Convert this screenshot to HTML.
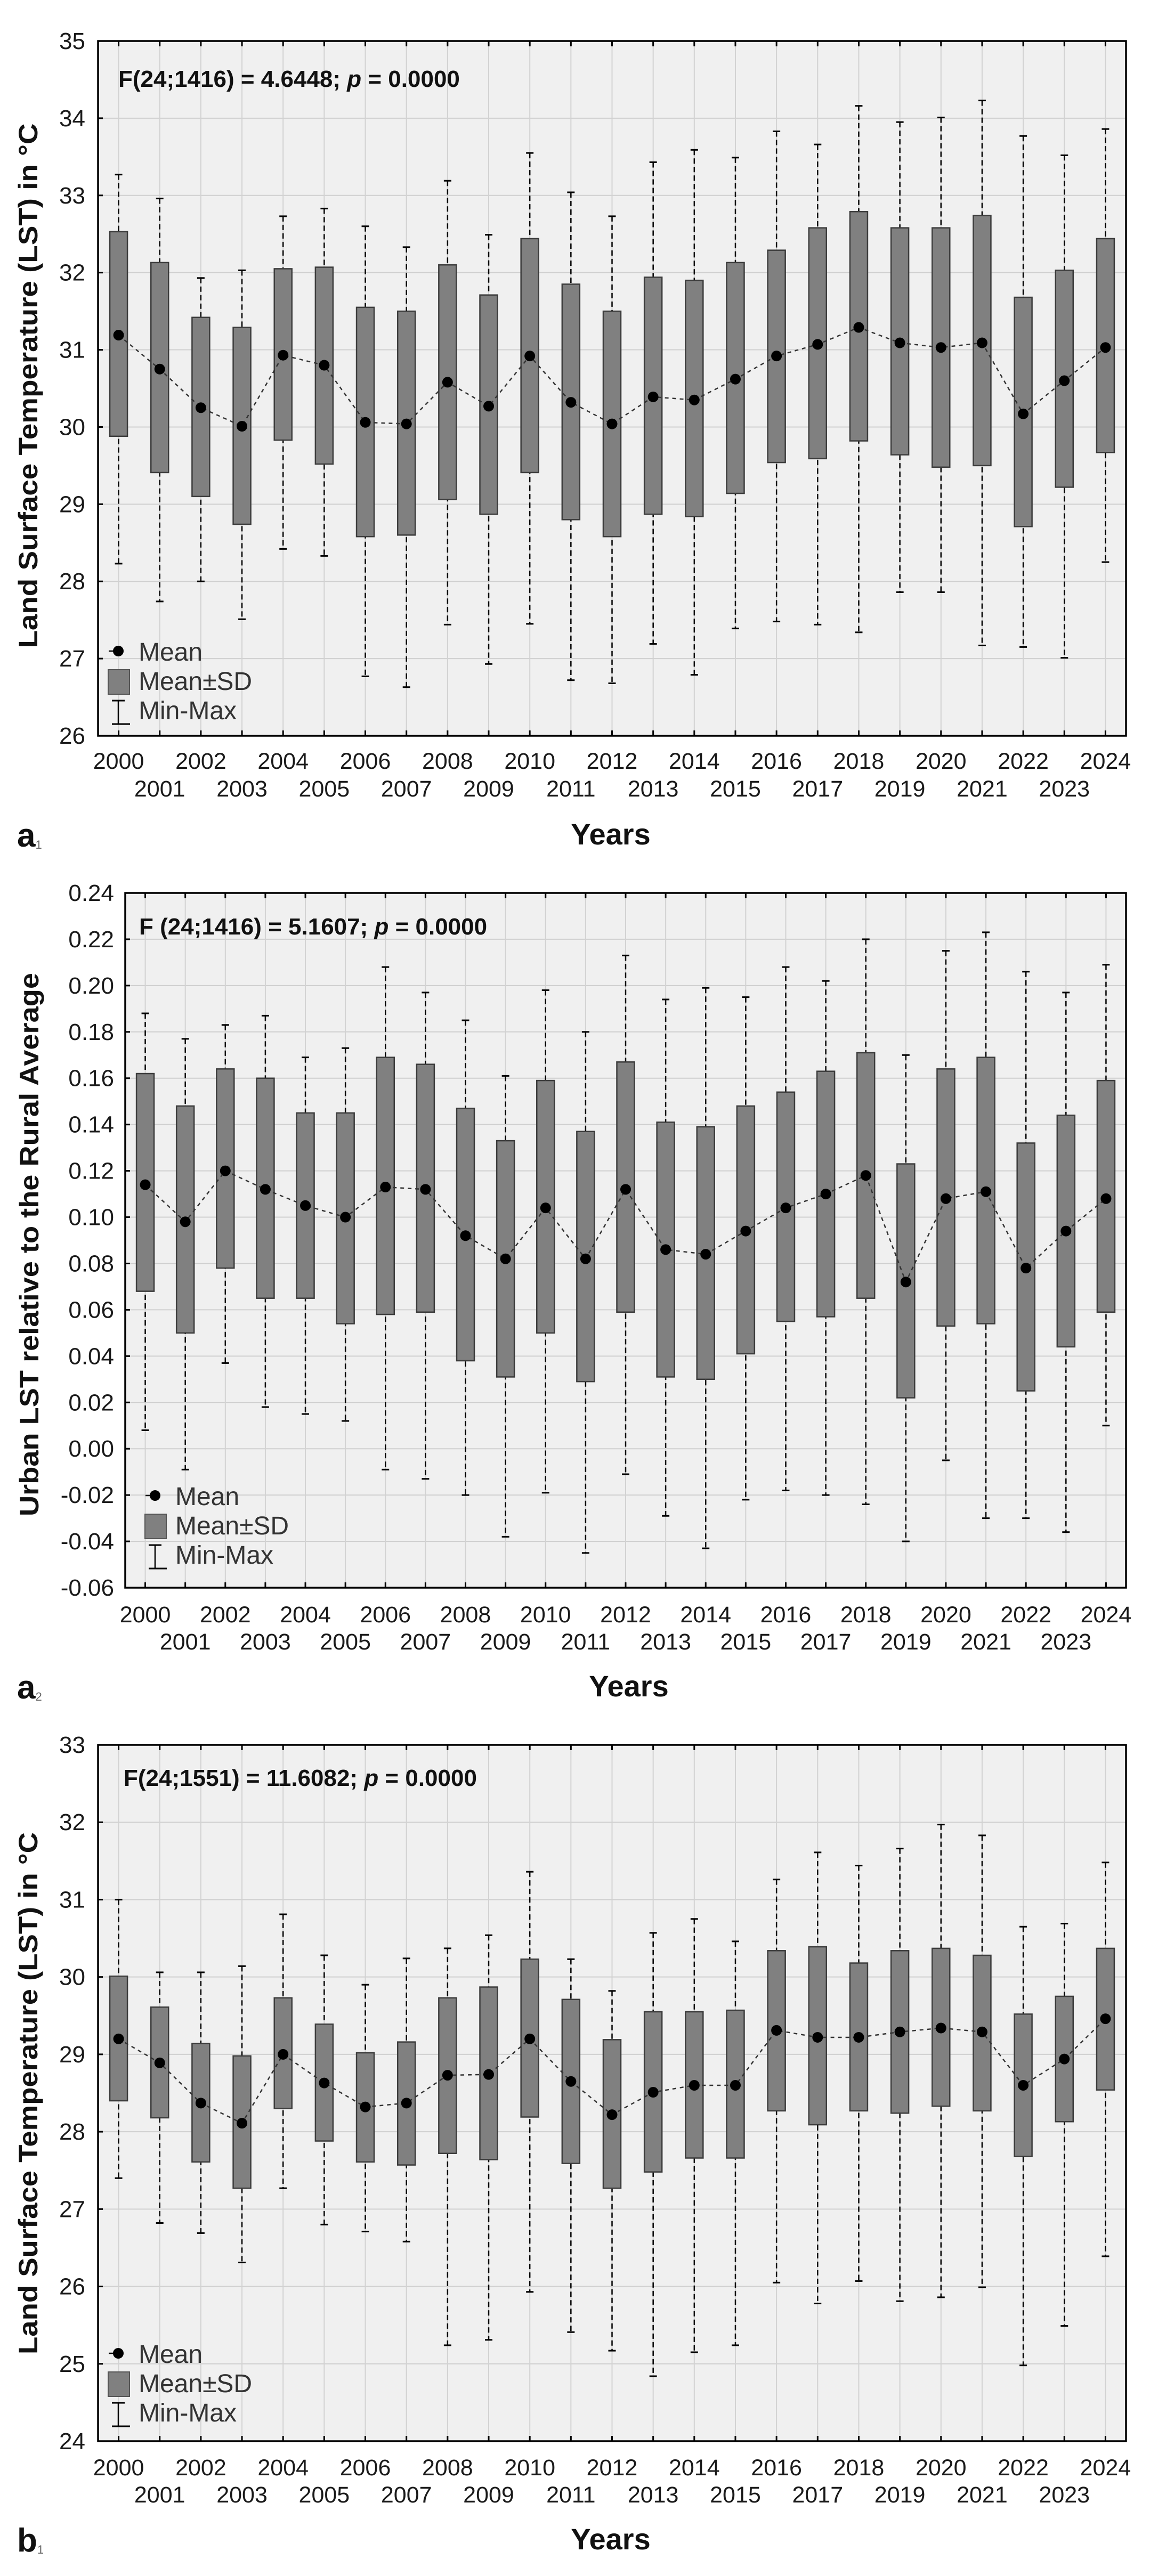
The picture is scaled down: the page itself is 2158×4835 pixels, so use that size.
<!DOCTYPE html>
<html><head><meta charset="utf-8"><title>LST charts</title>
<style>
html,body{margin:0;padding:0;background:#fff;}
svg{display:block;}
text{font-family:"Liberation Sans",Arial,sans-serif;}
</style></head>
<body>
<svg id="fig" width="2158" height="4835" viewBox="0 0 2158 4835" xmlns="http://www.w3.org/2000/svg"></svg>
<script>
const years = ["2000","2001","2002","2003","2004","2005","2006","2007","2008","2009","2010","2011","2012","2013","2014","2015","2016","2017","2018","2019","2020","2021","2022","2023","2024"];

// Chart a1
const a1Max  = [33.27,32.96,31.93,32.03,32.73,32.83,32.60,32.33,33.19,32.49,33.55,33.04,32.73,33.43,33.59,33.49,33.83,33.66,34.16,33.95,34.01,34.23,33.77,33.52,33.86];
const a1Top  = [32.53,32.13,31.42,31.29,32.05,32.07,31.55,31.50,32.10,31.71,32.44,31.85,31.50,31.94,31.90,32.13,32.29,32.58,32.79,32.58,32.58,32.74,31.68,32.03,32.44];
const a1Mean = [31.19,30.75,30.25,30.01,30.93,30.80,30.06,30.04,30.58,30.27,30.92,30.32,30.04,30.39,30.35,30.62,30.92,31.07,31.29,31.09,31.03,31.09,30.17,30.60,31.03];
const a1Bot  = [29.88,29.41,29.10,28.74,29.83,29.52,28.58,28.60,29.06,28.87,29.41,28.80,28.58,28.87,28.84,29.14,29.54,29.59,29.82,29.64,29.48,29.50,28.71,29.22,29.67];
const a1Min  = [28.23,27.74,28.00,27.51,28.42,28.33,26.77,26.63,27.44,26.93,27.45,26.72,26.68,27.19,26.79,27.39,27.48,27.44,27.34,27.86,27.86,27.17,27.15,27.01,28.25];
const a1Ticks = ["26","27","28","29","30","31","32","33","34","35"];

// Chart a2
const a2Max  = [0.188,0.177,0.183,0.187,0.169,0.173,0.208,0.197,0.185,0.161,0.198,0.180,0.213,0.194,0.199,0.195,0.208,0.202,0.220,0.170,0.215,0.223,0.206,0.197,0.209];
const a2Top  = [0.162,0.148,0.164,0.160,0.145,0.145,0.169,0.166,0.147,0.133,0.159,0.137,0.167,0.141,0.139,0.148,0.154,0.163,0.171,0.123,0.164,0.169,0.132,0.144,0.159];
const a2Mean = [0.114,0.098,0.120,0.112,0.105,0.100,0.113,0.112,0.092,0.082,0.104,0.082,0.112,0.086,0.084,0.094,0.104,0.110,0.118,0.072,0.108,0.111,0.078,0.094,0.108];
const a2Bot  = [0.068,0.050,0.078,0.065,0.065,0.054,0.058,0.059,0.038,0.031,0.050,0.029,0.059,0.031,0.030,0.041,0.055,0.057,0.065,0.022,0.053,0.054,0.025,0.044,0.059];
const a2Min  = [0.008,-0.009,0.037,0.018,0.015,0.012,-0.009,-0.013,-0.020,-0.038,-0.019,-0.045,-0.011,-0.029,-0.043,-0.022,-0.018,-0.020,-0.024,-0.040,-0.005,-0.030,-0.030,-0.036,0.010];
const a2Ticks = ["-0.06","-0.04","-0.02","0.00","0.02","0.04","0.06","0.08","0.10","0.12","0.14","0.16","0.18","0.20","0.22","0.24"];

// Chart b1
const b1Max  = [31.00,30.06,30.06,30.14,30.81,30.28,29.90,30.24,30.37,30.54,31.36,30.23,29.82,30.57,30.75,30.46,31.26,31.61,31.44,31.66,31.97,31.83,30.65,30.69,31.48];
const b1Top  = [30.01,29.61,29.14,28.98,29.73,29.39,29.02,29.16,29.73,29.87,30.23,29.71,29.19,29.55,29.55,29.57,30.34,30.39,30.18,30.34,30.37,30.28,29.52,29.75,30.37];
const b1Mean = [29.20,28.89,28.37,28.11,29.00,28.63,28.32,28.37,28.73,28.74,29.20,28.65,28.22,28.51,28.60,28.60,29.31,29.22,29.22,29.29,29.34,29.29,28.60,28.94,29.46];
const b1Bot  = [28.40,28.18,27.61,27.27,28.30,27.88,27.61,27.57,27.72,27.64,28.19,27.59,27.27,27.48,27.66,27.66,28.27,28.09,28.27,28.24,28.33,28.27,27.68,28.13,28.54];
const b1Min  = [27.40,26.82,26.69,26.31,27.27,26.80,26.71,26.58,25.24,25.31,25.93,25.41,25.17,24.84,25.15,25.24,26.05,25.78,26.07,25.81,25.86,25.99,24.98,25.49,26.39];
const b1Ticks = ["24","25","26","27","28","29","30","31","32","33"];

const NS = "http://www.w3.org/2000/svg";
const svg = document.getElementById("fig");
function mk(tag, attrs, parent, txt){
  const e = document.createElementNS(NS, tag);
  for (const k in attrs) e.setAttribute(k, attrs[k]);
  if (txt !== undefined) e.textContent = txt;
  (parent || svg).appendChild(e);
  return e;
}

function drawChart(c){
  const g = mk("g", {});
  
  
  const L=c.left, R=c.right, T=c.top, B=c.bottom;
  const lo = parseFloat(c.ticks[0]), hi = parseFloat(c.ticks[c.ticks.length-1]);
  const yS = v => B - (v - lo) / (hi - lo) * (B - T);
  const step = (R - L) / years.length;
  const xS = i => L + (i + 0.5) * step;

  const bg = mk("rect", {x:L, y:T, width:R-L, height:B-T, fill:"#f0f0f0"}, g);
  
  
  // grid
  c.ticks.forEach(t => {
    const y = yS(parseFloat(t));
    const gl = mk("line", {x1:L, x2:R, y1:y, y2:y, stroke:"#cfcfcf", "stroke-width":2}, g);
    
    
    const tl = mk("line", {x1:L, x2:L+9, y1:y, y2:y, stroke:"#000", "stroke-width":3}, g);
    
    
    const lab = mk("text", {x:c.tickX, y:y+15, "text-anchor":"end", "font-size":44, fill:"#1a1a1a"}, g, t);
    
    
  });
  years.forEach((yr, i) => {
    const x = xS(i);
    const gl = mk("line", {x1:x, x2:x, y1:T, y2:B, stroke:"#d2d2d2", "stroke-width":2}, g);
    
    
    const t1 = mk("line", {x1:x, x2:x, y1:T, y2:T+10, stroke:"#000", "stroke-width":3}, g);
    
    
    const t2 = mk("line", {x1:x, x2:x, y1:B-10, y2:B, stroke:"#000", "stroke-width":3}, g);
    
    
    const ly = (i % 2 === 0) ? c.xLab1 : c.xLab2;
    const lab = mk("text", {x:x, y:ly, "text-anchor":"middle", "font-size":43, fill:"#1a1a1a"}, g, yr);
    
    
  });
  // whiskers + boxes
  years.forEach((yr, i) => {
    const x = xS(i);
    const w = mk("line", {x1:x, x2:x, y1:yS(c.max[i]), y2:yS(c.min[i]), stroke:"#000", "stroke-width":2.5, "stroke-dasharray":"10,6"}, g);
    
    
    [c.max[i], c.min[i]].forEach(v => {
      const cap = mk("line", {x1:x-7, x2:x+7, y1:yS(v), y2:yS(v), stroke:"#000", "stroke-width":3}, g);
      
      
    });
    const yt = yS(c.top_[i]), yb = yS(c.bot[i]);
    const box = mk("rect", {x:x-16.5, y:yt, width:33, height:yb-yt, fill:"#808080", stroke:"#3c3c3c", "stroke-width":2.5}, g);
    
    
  });
  const pts = c.mean.map((v, i) => xS(i) + "," + yS(v)).join(" ");
  const ml = mk("polyline", {points:pts, fill:"none", stroke:"#333", "stroke-width":2.5, "stroke-dasharray":"7,7"}, g);
  
  
  c.mean.forEach((v, i) => {
    const d = mk("circle", {cx:xS(i), cy:yS(v), r:10, fill:"#000"}, g);
    
    
  });
  // frame
  const fr = mk("rect", {x:L, y:T, width:R-L, height:B-T, fill:"none", stroke:"#000", "stroke-width":3.5}, g);
  
  
  // F stat
  const ft = mk("text", {x:c.fX, y:c.fY, "font-size":44, "font-weight":"bold", fill:"#111"}, g);
  
  
  mk("tspan", {}, ft, c.fText + " ");
  mk("tspan", {"font-style":"italic"}, ft, "p");
  mk("tspan", {}, ft, " = 0.0000");
  // legend
  const lg = mk("g", {}, g);
  
  
  const lx = c.legX, ly0 = c.legY;
  mk("circle", {cx:lx, cy:ly0, r:10, fill:"#000"}, lg);
  mk("line", {x1:lx-18, x2:lx, y1:ly0, y2:ly0, stroke:"#000", "stroke-width":2.5}, lg);
  const t1 = mk("text", {x:lx+38, y:ly0+18, "font-size":48, fill:"#333"}, lg, "Mean");
  
  
  mk("rect", {x:lx-19, y:ly0+35, width:40, height:46, fill:"#808080", stroke:"#555", "stroke-width":2}, lg);
  const t2 = mk("text", {x:lx+38, y:ly0+73, "font-size":48, fill:"#333"}, lg, "Mean±SD");
  
  
  mk("line", {x1:lx, x2:lx, y1:ly0+93, y2:ly0+137, stroke:"#000", "stroke-width":2.5}, lg);
  mk("line", {x1:lx-12, x2:lx+12, y1:ly0+93, y2:ly0+93, stroke:"#000", "stroke-width":3}, lg);
  mk("line", {x1:lx-12, x2:lx+22, y1:ly0+137, y2:ly0+137, stroke:"#000", "stroke-width":3}, lg);
  const t3 = mk("text", {x:lx+38, y:ly0+128, "font-size":48, fill:"#333"}, lg, "Min-Max");
  
  
  // axis titles
  const yt = mk("text", {x:0, y:0, "font-size":50, "font-weight":"bold", "text-anchor":"middle", fill:"#111",
    transform:"translate(" + c.yTitleX + "," + c.yTitleY + ") rotate(-90)", textLength:c.yTitleLen, lengthAdjust:"spacingAndGlyphs"}, g, c.yTitle);
  
  
  const xt = mk("text", {x:c.xTitleX, y:c.xTitleY, "font-size":56, "font-weight":"bold", "text-anchor":"middle", fill:"#111"}, g, "Years");
  
  
  const pl = mk("text", {x:32, y:c.xTitleY+4, "font-size":62, "font-weight":"bold", fill:"#111"}, g);
  
  
  mk("tspan", {}, pl, c.panel[0]);
  mk("tspan", {"font-size":22, "font-weight":"normal", dy:4, fill:"#666"}, pl, c.panel[1]);
}

drawChart({name:"chart-a1", left:184, right:2113, top:77, bottom:1381, ticks:a1Ticks,
  max:a1Max, top_:a1Top, mean:a1Mean, bot:a1Bot, min:a1Min, tickX:160, xLab1:1443, xLab2:1495,
  fX:222, fY:163, fText:"F(24;1416) = 4.6448;", legX:222, legY:1222,
  yTitle:"Land Surface Temperature (LST) in °C", yTitleX:70, yTitleY:724, yTitleLen:985,
  xTitleX:1146, xTitleY:1585, panel:["a","1"]});
drawChart({name:"chart-a2", left:235, right:2113, top:1676, bottom:2980, ticks:a2Ticks,
  max:a2Max, top_:a2Top, mean:a2Mean, bot:a2Bot, min:a2Min, tickX:214, xLab1:3045, xLab2:3096,
  fX:261, fY:1754, fText:"F (24;1416) = 5.1607;", legX:291, legY:2807,
  yTitle:"Urban LST relative to the Rural Average", yTitleX:72, yTitleY:2336, yTitleLen:1020,
  xTitleX:1180, xTitleY:3184, panel:["a","2"]});
drawChart({name:"chart-b1", left:184, right:2113, top:3275, bottom:4582, ticks:b1Ticks,
  max:b1Max, top_:b1Top, mean:b1Mean, bot:b1Bot, min:b1Min, tickX:160, xLab1:4646, xLab2:4697,
  fX:232, fY:3352, fText:"F(24;1551) = 11.6082;", legX:222, legY:4417,
  yTitle:"Land Surface Temperature (LST) in °C", yTitleX:70, yTitleY:3929, yTitleLen:980,
  xTitleX:1146, xTitleY:4785, panel:["b","1"]});
</script>
</body></html>
